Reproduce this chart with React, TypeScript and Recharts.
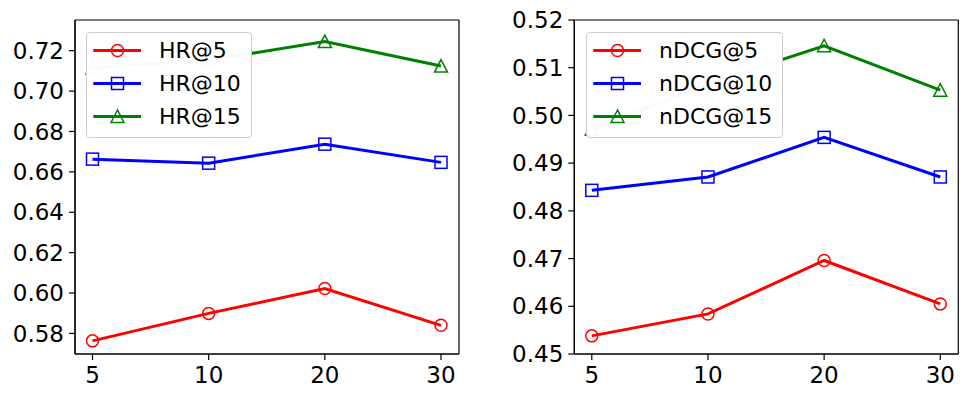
import React from "react";
import {CartesianGrid, Legend, Line, LineChart, XAxis, YAxis} from "recharts";

const ks = ["5", "10", "20", "30"];

const hr5 = [0.5763, 0.5899, 0.6022, 0.5840];
const hr10 = [0.6663, 0.6643, 0.6737, 0.6647];
const hr15 = [0.7114, 0.7153, 0.7245, 0.7124];

const ndcg5 = [0.4538, 0.4584, 0.4696, 0.4605];
const ndcg10 = [0.4843, 0.4871, 0.4954, 0.4871];
const ndcg15 = [0.4971, 0.5066, 0.5146, 0.5053];

const hrTicks = [0.58, 0.60, 0.62, 0.64, 0.66, 0.68, 0.70, 0.72];
const ndcgTicks = [0.45, 0.46, 0.47, 0.48, 0.49, 0.50, 0.51, 0.52];

const FONT = "'DejaVu Sans', sans-serif";

type Shape = "circle" | "square" | "triangle";

interface Series {
    key: string;
    color: string;
    shape: Shape;
    values: number[];
}

function Marker({cx, cy, shape, color}: { cx: number, cy: number, shape: Shape, color: string }) {
    if (shape === "circle") {
        return <circle cx={cx} cy={cy} r={6} fill="none" stroke={color} strokeWidth={1.5}/>;
    }
    if (shape === "square") {
        return <rect x={cx - 6} y={cy - 6} width={12} height={12} fill="none" stroke={color} strokeWidth={1.5}/>;
    }
    const pts = `${cx},${cy - 6.5} ${cx - 6.5},${cy + 6} ${cx + 6.5},${cy + 6}`;
    return <polygon points={pts} fill="none" stroke={color} strokeWidth={1.5}/>;
}

function makeDot(shape: Shape, color: string) {
    return (p: any) => {
        const {cx, cy, index} = p;
        if (cx == null || cy == null) return <g key={`d-${index}`}/>;
        return <g key={`d-${index}`}><Marker cx={cx} cy={cy} shape={shape} color={color}/></g>;
    };
}

function LegendBox({series, width}: { series: Series[], width: number }) {
    return (
        <div style={{
            width: width,
            height: 106,
            boxSizing: "border-box",
            border: "1px solid #cccccc",
            borderRadius: 4,
            background: "rgba(255,255,255,0.97)",
            paddingTop: 1,
            fontFamily: FONT,
            fontSize: 22,
            color: "#000",
        }}>
            {series.map(s => (
                <div key={s.key} style={{height: 33.3, display: "flex", alignItems: "center"}}>
                    <svg width={72} height={33} style={{flex: "none"}}>
                        <line x1={6.3} x2={54} y1={16.5} y2={16.5} stroke={s.color} strokeWidth={3}/>
                        <Marker cx={30.5} cy={16.5} shape={s.shape} color={s.color}/>
                    </svg>
                    <span style={{lineHeight: "33px"}}>{s.key}</span>
                </div>
            ))}
        </div>
    );
}

// frame of the plot area, taken from the chart's own offset
const frameRows = ({offset}: any) => [offset.top, offset.top + offset.height];
const frameCols = ({offset}: any) => [offset.left, offset.left + offset.width];

interface PanelProps {
    series: Series[];
    domain: [number, number];
    ticks: number[];
    width: number;
    yWidth: number;
    rightMargin: number;
    legendLeft: number;
    legendWidth: number;
}

function Panel({series, domain, ticks, width, yWidth, rightMargin, legendLeft, legendWidth}: PanelProps) {
    const data = ks.map((k, i) => {
        const row: Record<string, string | number> = {k};
        series.forEach(s => {
            row[s.key] = s.values[i];
        });
        return row;
    });
    const tickStyle = {fill: "#000", fontSize: 23, fontFamily: FONT};
    return (
        <LineChart width={width} height={399} data={data}
                   margin={{top: 20, right: rightMargin, bottom: 0, left: 0}}>
            <CartesianGrid stroke="#000" strokeWidth={1.2}
                           horizontalCoordinatesGenerator={frameRows}
                           verticalCoordinatesGenerator={frameCols}/>
            <XAxis dataKey="k" type="category" height={45} padding={{left: 17.5, right: 18}}
                   tick={tickStyle} tickSize={6} tickMargin={7}
                   axisLine={{stroke: "#000", strokeWidth: 1.2}} tickLine={{stroke: "#000", strokeWidth: 1.2}}/>
            <YAxis type="number" domain={domain} ticks={ticks} allowDataOverflow width={yWidth}
                   tickFormatter={(v: number) => v.toFixed(2)}
                   tick={tickStyle} tickSize={6} tickMargin={5}
                   axisLine={{stroke: "#000", strokeWidth: 1.2}} tickLine={{stroke: "#000", strokeWidth: 1.2}}/>
            {series.map(s => (
                <Line key={s.key} dataKey={s.key} stroke={s.color} strokeWidth={3}
                      dot={makeDot(s.shape, s.color)} activeDot={false}
                      isAnimationActive={false}/>
            ))}
            <Legend layout="vertical" align="center" verticalAlign="middle"
                    wrapperStyle={{left: legendLeft, top: 31.7, width: legendWidth, zIndex: 5}}
                    content={() => <LegendBox series={series} width={legendWidth}/>}/>
        </LineChart>
    );
}

const hrSeries: Series[] = [
    {key: "HR@5", color: "#ff0000", shape: "circle", values: hr5},
    {key: "HR@10", color: "#0000ff", shape: "square", values: hr10},
    {key: "HR@15", color: "#008000", shape: "triangle", values: hr15},
];

const ndcgSeries: Series[] = [
    {key: "nDCG@5", color: "#ff0000", shape: "circle", values: ndcg5},
    {key: "nDCG@10", color: "#0000ff", shape: "square", values: ndcg10},
    {key: "nDCG@15", color: "#008000", shape: "triangle", values: ndcg15},
];

export default function App() {
    return (
        <div style={{position: "absolute", left: 0, top: 0, width: 969, height: 399, background: "#fff"}}>
            <div style={{position: "absolute", left: 0, top: 0}}>
                <Panel series={hrSeries} domain={[0.5698, 0.7352]} ticks={hrTicks}
                       width={480} yWidth={75} rightMargin={21}
                       legendLeft={86} legendWidth={166}/>
            </div>
            <div style={{position: "absolute", left: 480, top: 0}}>
                <Panel series={ndcgSeries} domain={[0.45, 0.52]} ticks={ndcgTicks}
                       width={489} yWidth={94.3} rightMargin={10.7}
                       legendLeft={106} legendWidth={197}/>
            </div>
        </div>
    );
}
